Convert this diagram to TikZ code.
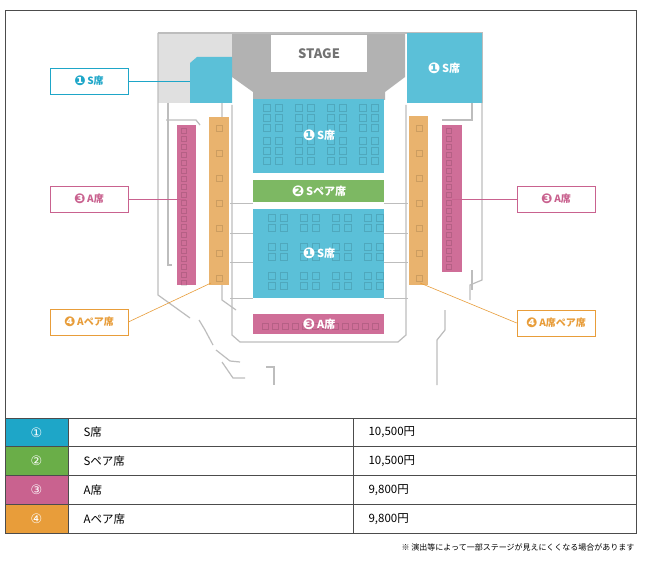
\documentclass[tikz,border=0pt]{standalone}
\usepackage{fontspec}
\setmainfont{Noto Sans CJK JP}
\newfontfamily\dejavu{DejaVu Sans}
\definecolor{sblue}{HTML}{5BC0D8}
\definecolor{tblue}{HTML}{1EA6C8}
\definecolor{sgreen}{HTML}{7DB863}
\definecolor{tgreen}{HTML}{6AAE48}
\definecolor{spink}{HTML}{CF6E98}
\definecolor{tpink}{HTML}{C9628F}
\definecolor{sorange}{HTML}{E9B36E}
\definecolor{torange}{HTML}{E89D3A}
\definecolor{wall}{HTML}{BDBDBD}
\tikzset{
  wallline/.style={draw=wall,line width=1.2pt},
  seat/.style={draw=black,opacity=0.12,line width=0.5pt},
  seatlabel/.style={text=white,font=\bfseries\fontsize{11}{12}\selectfont},
  callout/.style={draw=#1,line width=0.6pt,minimum width=78pt,minimum height=26pt,text=#1,font=\bfseries\fontsize{10}{11}\selectfont},
  cell/.style={draw=black!70,line width=0.6pt}
}
\newcommand{\dn}[1]{\raisebox{-0.1em}{\scalebox{1.35}{\dejavu #1}}\,}
\begin{document}
\begin{tikzpicture}[x=1pt,y=-1pt]
\useasboundingbox (0,0) rectangle (650,564);
\fill[white] (0,0) rectangle (650,564);
% frame
\draw[black!70,line width=0.6pt] (5,10) rectangle (636,533);
% building hatch and stage
\fill[black!12] (158,33) rectangle (232,103);
\fill[black!30] (232,33) -- (405,33) -- (405,77) -- (385,92) -- (385,100) -- (253,100) -- (253,92) -- (232,77) -- cycle;
\node[fill=white,minimum width=96pt,minimum height=37pt,text=black!55,font=\bfseries\fontsize{13}{14}\selectfont] (stage) at (319,53.5) {STAGE};
% walls
\draw[wallline] (158,33) -- (482,33) -- (482,103);
\draw[wallline] (158,33) -- (158,295) -- (190,318);
\draw[wallline] (482,103) -- (482,280) -- (470,285) -- (470,300);
\draw[wallline] (222,103) -- (222,300) -- (236,310);
\draw[wallline] (232,105) -- (232,335) -- (240,342) -- (398,342) -- (406,335) -- (406,105);
\draw[wallline] (168,103) -- (168,265) -- (172,265);
\draw[wallline] (166,120) -- (196,120) -- (200,125);
\draw[wallline] (442,120) -- (472,120) -- (472,103);
\draw[wallline] (472,270) -- (472,290);
\draw[wallline] (199,320) -- (205,330) -- (213,345);
\draw[wallline] (216,350) -- (230,361) -- (240,362);
\draw[wallline] (222,362) -- (233,378) -- (245,378);
\draw[wallline] (266,367) -- (274,367) -- (274,385);
\draw[wallline] (445,310) -- (445,330) -- (437,340) -- (437,385);
\foreach \y in {203,233,262,298} {
  \draw[wall,line width=0.4pt] (230,\y) -- (253,\y);
  \draw[wall,line width=0.4pt] (384,\y) -- (408,\y);
}
% seat blocks
\fill[sblue] (190,63) -- (197,57) -- (232,57) -- (232,103) -- (190,103) -- cycle;
\fill[sblue] (407,33) rectangle (482,103);
\fill[sblue] (253,99) rectangle (384,173);
\fill[sgreen] (253,180) rectangle (384,202);
\fill[sblue] (253,209) rectangle (384,298);
\fill[spink] (253,314) rectangle (384,334);
\fill[spink] (177,125) rectangle (196,285);
\fill[sorange] (209,117) rectangle (229,285);
\fill[sorange] (409,116) rectangle (428,285);
\fill[spink] (442,125) rectangle (462,272);
% seat marks
\foreach \x in {263,295,327,359} {
  \foreach \y in {104,114,124,137,147,157} {
    \draw[seat] (\x,\y) rectangle ++(7,7);
    \draw[seat] (\x+12,\y) rectangle ++(7,7);
  }
  \foreach \y in {214,224,243,253,272,282} {
    \draw[seat] (\x+5,\y) rectangle ++(7,7);
    \draw[seat] (\x+17,\y) rectangle ++(7,7);
  }
}
\foreach \y in {128,136,...,280} {
  \draw[seat] (181,\y) rectangle ++(5,5);
}
\foreach \y in {128,136,...,264} {
  \draw[seat] (446,\y) rectangle ++(5,5);
}
\foreach \y in {125,150,175,200,225,250,275} {
  \draw[seat] (216,\y) rectangle ++(6,6);
  \draw[seat] (416,\y) rectangle ++(6,6);
}
\foreach \x in {262,272,...,375} {
  \draw[seat] (\x,323) rectangle ++(6,6);
}
% labels on map
\node[seatlabel] (s1top) at (319,135) {\dn{❶}S席};
\node[seatlabel] (s2) at (319,191) {\dn{❷}Sペア席};
\node[seatlabel] (s1bot) at (319,253) {\dn{❶}S席};
\node[seatlabel] (a3bot) at (319,324) {\dn{❸}A席};
\node[seatlabel] (s1box) at (444,68) {\dn{❶}S席};
% callouts
\node[callout=tblue] (cS) at (89,81) {\dn{❶}S席};
\node[callout=tpink] (cAl) at (89,199) {\dn{❸}A席};
\node[callout=torange] (cPl) at (89,322) {\dn{❹}Aペア席};
\node[callout=tpink] (cAr) at (556,199) {\dn{❸}A席};
\node[callout=torange] (cPr) at (556,323) {\dn{❹}A席ペア席};
\coordinate (pS) at (190,81);
\coordinate (pAl) at (186,199);
\coordinate (pPl) at (211,283);
\coordinate (pAr) at (452,199);
\coordinate (pPr) at (420,283);
\draw[tblue,line width=0.6pt] (cS) -- (pS);
\draw[tpink,line width=0.6pt] (cAl) -- (pAl);
\draw[torange,line width=0.6pt] (cPl.east) -- (pPl);
\draw[tpink,line width=0.6pt] (cAr) -- (pAr);
\draw[torange,line width=0.6pt] (cPr.west) -- (pPr);
% price table
\foreach \c/\n/\s/\p [count=\i] in {tblue/①/S席/{10,500円},tgreen/②/Sペア席/{10,500円},tpink/③/A席/{9,800円},torange/④/Aペア席/{9,800円}} {
  \pgfmathsetmacro{\ya}{418+(\i-1)*28.75}
  \pgfmathsetmacro{\yb}{418+\i*28.75}
  \fill[\c] (5,\ya) rectangle (68,\yb);
  \node[text=white,font=\dejavu\fontsize{13}{14}\selectfont] (num\i) at (36.5,\ya+14.4) {\n};
  \node[anchor=west,font=\fontsize{11.5}{13}\selectfont] (name\i) at (80,\ya+14.4) {\s};
  \node[anchor=west,font=\fontsize{11.5}{13}\selectfont] (price\i) at (365,\ya+14.4) {\p};
  \draw[cell] (5,\ya) rectangle (636,\yb);
}
\draw[cell] (68,418) -- (68,533);
\draw[cell] (353,418) -- (353,533);
\node[anchor=east,font=\fontsize{8}{9}\selectfont] (note) at (638,547) {※ 演出等によって一部ステージが見えにくくなる場合があります};
\end{tikzpicture}
\end{document}
